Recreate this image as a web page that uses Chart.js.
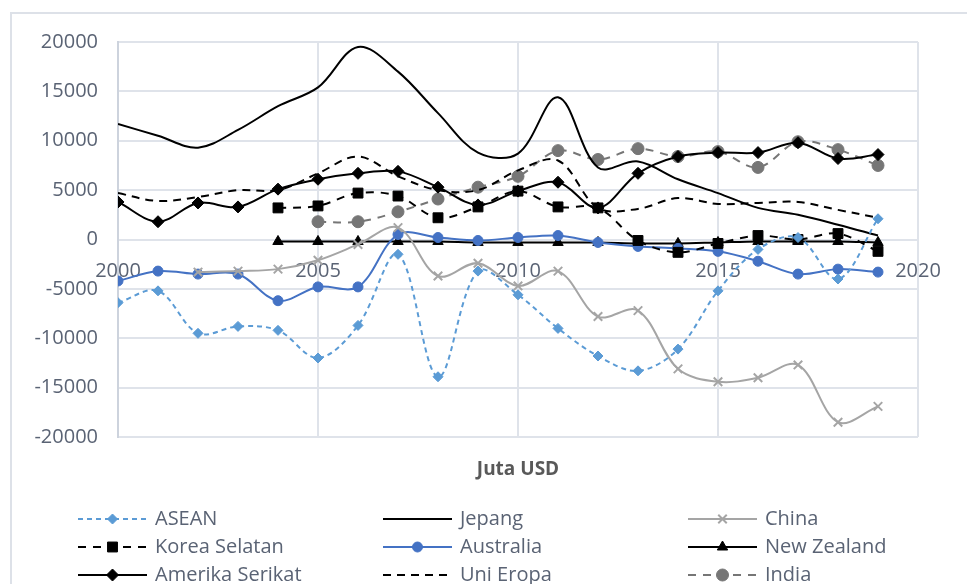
<!DOCTYPE html>
<html>
<head>
<meta charset="utf-8">
<script src="https://cdn.jsdelivr.net/npm/chart.js@4"></script>
<style>
  body { margin: 0; background: #fff; }
  #wrap { width: 967px; height: 584px; position: relative; }
</style>
</head>
<body>
<div id="wrap"><canvas id="myChart"></canvas></div>
<script>
const years = [2000, 2001, 2002, 2003, 2004, 2005, 2006, 2007, 2008, 2009, 2010, 2011, 2012, 2013, 2014, 2015, 2016, 2017, 2018, 2019];
const yTicks = [-20000, -15000, -10000, -5000, 0, 5000, 10000, 15000, 20000];
const xTicks = [2000, 2005, 2010, 2015, 2020];

const asean = [-6400, -5200, -9500, -8800, -9200, -12000, -8700, -1500, -13900, -3200, -5600, -9000, -11800, -13300, -11100, -5200, -1000, 200, -4000, 2100];
const jepang = [11700, 10500, 9300, 11100, 13500, 15400, 19500, 17000, 12800, 8800, 8700, 14400, 7300, 7900, 6100, 4700, 3200, 2500, 1500, 400];
const china = [null, null, -3300, -3200, -3000, -2100, -500, 1200, -3700, -2400, -4700, -3200, -7800, -7200, -13100, -14400, -14000, -12700, -18500, -16900];
const koreaSelatan = [null, null, null, null, 3200, 3400, 4700, 4400, 2200, 3300, 4900, 3300, 3200, -100, -1300, -400, 400, 0, 600, -1200];
const australia = [-4200, -3200, -3500, -3500, -6200, -4800, -4800, 500, 200, -100, 200, 400, -300, -700, -900, -1200, -2200, -3500, -3000, -3300];
const newZealand = [null, null, null, null, -200, -200, -200, -200, -200, -300, -300, -300, -300, -400, -400, -300, -200, -200, -200, -300];
const amerikaSerikat = [3800, 1800, 3700, 3300, 5100, 6100, 6700, 6900, 5300, 3500, 4900, 5800, 3200, 6700, 8400, 8800, 8800, 9800, 8200, 8600];
const uniEropa = [4700, 3900, 4300, 5000, 5000, 6700, 8400, 6400, 5000, 5000, 7000, 8000, 3200, 3100, 4200, 3600, 3700, 3800, 3000, 2200];
const india = [null, null, null, null, null, 1800, 1800, 2800, 4100, 5300, 6400, 9000, 8100, 9200, 8400, 8900, 7300, 9900, 9100, 7500];

const FONT = "'Open Sans', 'Liberation Sans', sans-serif";
const TEXT = "#5a6374";
const GRID = "#dfe3ea";

function pts(arr) {
  return years.map((yr, i) => ({ x: yr, y: arr[i] })).filter((p) => p.y !== null);
}

function serie(label, arr, color, dash, style, radius, extra) {
  return Object.assign({
    label,
    data: pts(arr),
    borderColor: color,
    backgroundColor: color,
    borderWidth: 2,
    borderDash: dash,
    pointStyle: style || false,
    pointRadius: style ? radius : 0,
    pointBackgroundColor: color,
    pointBorderColor: color,
    pointBorderWidth: 1,
    tension: 0.35,
  }, extra || {});
}

const datasets = [
  serie("ASEAN", asean, "#5b9bd5", [5, 4], "rectRot", 5),
  serie("Jepang", jepang, "#000000", [], false, 0),
  serie("China", china, "#a5a5a5", [], "crossRot", 6, { pointBorderWidth: 2 }),
  serie("Korea Selatan", koreaSelatan, "#000000", [8, 7], "rect", 7),
  serie("Australia", australia, "#4472c4", [], "circle", 5),
  serie("New Zealand", newZealand, "#000000", [], "triangle", 6),
  serie("Amerika Serikat", amerikaSerikat, "#000000", [], "rectRot", 6),
  serie("Uni Eropa", uniEropa, "#000000", [8, 6], false, 0),
  serie("India", india, "#767676", [8, 7], "circle", 6),
];

// legend in 3 columns, axis title and outer frame
const extras = {
  id: "extras",
  beforeDraw(chart) {
    const ctx = chart.ctx;
    ctx.save();
    ctx.strokeStyle = "#dde1e8";
    ctx.lineWidth = 2;
    ctx.beginPath();
    ctx.moveTo(11, 584);
    ctx.lineTo(11, 13);
    ctx.lineTo(967, 13);
    ctx.stroke();
    ctx.restore();
  },
  afterDraw(chart) {
    const ctx = chart.ctx;
    const area = chart.chartArea;
    ctx.save();
    ctx.fillStyle = "#595959";
    ctx.font = "bold 19px " + FONT;
    ctx.textAlign = "center";
    ctx.textBaseline = "middle";
    ctx.fillText("Juta USD", (area.left + area.right) / 2, 470);

    const colX = [78, 383, 688];
    const rowY = [519, 547, 575];
    chart.data.datasets.forEach((ds, i) => {
      const x = colX[i % 3];
      const y = rowY[Math.floor(i / 3)];
      ctx.strokeStyle = ds.borderColor;
      ctx.lineWidth = 2;
      ctx.setLineDash(ds.borderDash);
      ctx.beginPath();
      ctx.moveTo(x, y);
      ctx.lineTo(x + 69, y);
      ctx.stroke();
      ctx.setLineDash([]);
      if (ds.pointStyle) {
        ctx.fillStyle = ds.pointBackgroundColor;
        ctx.strokeStyle = ds.pointBorderColor;
        ctx.lineWidth = ds.pointBorderWidth;
        Chart.helpers.drawPoint(ctx, {
          pointStyle: ds.pointStyle,
          radius: ds.pointRadius,
          rotation: 0,
          borderWidth: ds.pointBorderWidth,
        }, x + 34.5, y);
      }
      ctx.fillStyle = TEXT;
      ctx.font = "20px " + FONT;
      ctx.textAlign = "left";
      ctx.textBaseline = "middle";
      ctx.fillText(ds.label, x + 77, y);
    });
    ctx.restore();
  },
};

new Chart(document.getElementById("myChart"), {
  type: "line",
  data: { datasets },
  options: {
    responsive: true,
    maintainAspectRatio: false,
    animation: false,
    layout: { padding: { left: 0, top: 42, right: 49, bottom: 147 } },
    plugins: { legend: { display: false }, tooltip: { enabled: false } },
    scales: {
      x: {
        type: "linear",
        min: 2000,
        max: 2020,
        position: { y: 0 },
        afterFit: (s) => { s.height = 0; },
        afterBuildTicks: (s) => { s.ticks = xTicks.map((v) => ({ value: v })); },
        ticks: {
          callback: (v) => String(v),
          color: TEXT,
          font: { family: FONT, size: 20 },
          padding: 20,
          maxRotation: 0,
          autoSkip: false,
        },
        grid: { color: GRID, lineWidth: 2, drawTicks: false },
        border: { color: GRID, width: 2 },
      },
      y: {
        min: -20000,
        max: 20000,
        afterFit: (s) => { s.width = 118; },
        afterBuildTicks: (s) => { s.ticks = yTicks.map((v) => ({ value: v })); },
        ticks: {
          callback: (v) => String(v),
          color: TEXT,
          font: { family: FONT, size: 20 },
          padding: 20,
        },
        grid: { color: GRID, lineWidth: 2, drawTicks: false },
        border: { color: "#cdd3dd", width: 2 },
      },
    },
  },
  plugins: [extras],
});
</script>
</body>
</html>
